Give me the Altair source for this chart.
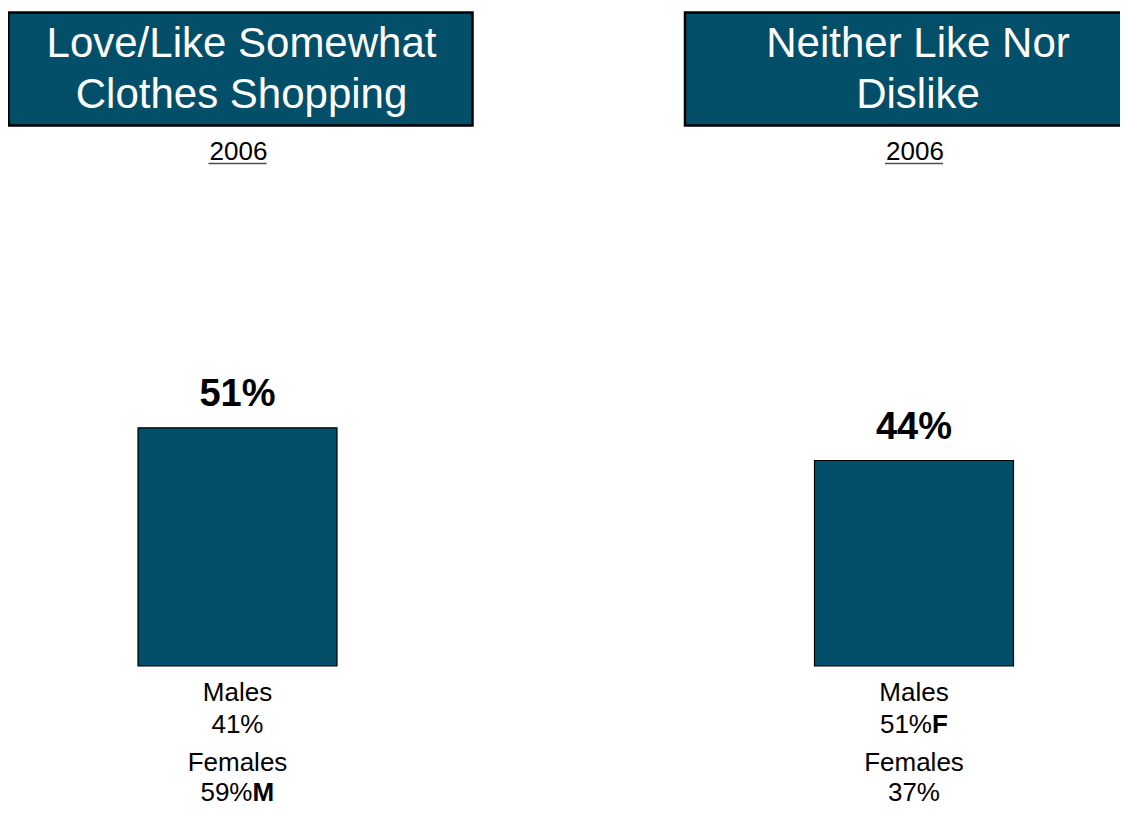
import altair as alt
import pandas as pd

# ---- data ----
panel_titles = ["Love/Like Somewhat\nClothes Shopping", "Neither Like Nor\nDislike"]
year_labels = ["2006", "2006"]
totals = [51, 44]
male_pct = [41, 51]
female_pct = [59, 37]
male_flag = ["", "F"]
female_flag = ["M", ""]

df = pd.DataFrame({
    "pos": [0, 1],
    "title": panel_titles,
    "year": year_labels,
    "total": totals,
    "total_lbl": [f"{v}%" for v in totals],
    "male_lbl": [f"{v}%" for v in male_pct],
    "female_lbl": [f"{v}%" for v in female_pct],
    "male_flag": male_flag,
    "female_flag": female_flag,
})

TEAL = "#034F69"
FONT = "Liberation Sans"
PX = 676.5  # pixels per panel unit on the x scale

X = alt.Scale(domain=[0, 1], range=[229.5, 906])
Y = alt.Scale(domain=[0, 100], range=[658, 191])
xe = alt.X("pos:Q", scale=X, axis=None)

base = alt.Chart(df)

# title boxes
boxes = base.transform_calculate(
    bl=f"datum.pos + (3 - 232) / {PX}", br=f"datum.pos + (3 + 232) / {PX}"
).mark_rect(color=TEAL, stroke="black", strokeWidth=2.5).encode(
    x=alt.X("bl:Q", scale=X, axis=None),
    x2="br:Q",
    y=alt.value(4.5),
    y2=alt.value(117.5),
)

titles = base.mark_text(
    font=FONT, fontSize=42, color="white", lineBreak="\n", lineHeight=51,
    baseline="middle", align="center", dx=4,
).encode(x=xe, y=alt.value(36), text="title:N")

years = base.mark_text(
    font=FONT, fontSize=26, color="black", baseline="middle", align="center", dx=1,
).encode(x=xe, y=alt.value(144), text="year:N")

underline = base.mark_tick(
    orient="horizontal", size=58, thickness=1.5, color="black"
).encode(x=alt.X("pos:Q", scale=X, axis=None), y=alt.value(155.5))

bars = base.transform_calculate(
    l=f"datum.pos - 99.5 / {PX}", r=f"datum.pos + 99.5 / {PX}"
).mark_rect(color=TEAL, stroke="black", strokeWidth=1.2).encode(
    x=alt.X("l:Q", scale=X, axis=None),
    x2="r:Q",
    y=alt.Y("total:Q", scale=Y, axis=None),
    y2=alt.datum(0),
)

value_lbl = base.mark_text(
    font=FONT, fontSize=38, fontWeight="bold", color="black",
    baseline="alphabetic", align="center", dy=-22,
).encode(x=xe, y=alt.Y("total:Q", scale=Y, axis=None), text="total_lbl:N")

txt = dict(font=FONT, fontSize=26, color="black", baseline="middle")

Y_MH, Y_MP, Y_FH, Y_FP = 685, 717, 755, 785

males_hdr = base.mark_text(align="center", **txt).encode(
    x=xe, y=alt.value(Y_MH), text=alt.value("Males"))
females_hdr = base.mark_text(align="center", **txt).encode(
    x=xe, y=alt.value(Y_FH), text=alt.value("Females"))

# percentage + bold significance flag, centered as a pair
def pair(num_field, flag_field, yv, off_flag):
    calc = base.transform_calculate(
        xp=f"datum.pos + (datum.{flag_field} == '' ? 26 : {off_flag}) / {PX}"
    )
    xx = alt.X("xp:Q", scale=X, axis=None)
    num = calc.mark_text(align="right", **txt).encode(
        x=xx, y=alt.value(yv), text=f"{num_field}:N")
    flg = calc.mark_text(align="left", fontWeight="bold", **txt).encode(
        x=xx, y=alt.value(yv), text=f"{flag_field}:N")
    return num, flg

male_num, male_fl = pair("male_lbl", "male_flag", Y_MP, 18)
female_num, female_fl = pair("female_lbl", "female_flag", Y_FP, 15)

chart = alt.layer(
    boxes, titles, years, underline, bars, value_lbl,
    males_hdr, females_hdr, male_num, male_fl, female_num, female_fl,
).properties(
    width=1112, height=800, padding=0, autosize=alt.AutoSizeParams(type="none")
).configure_view(stroke=None)

chart.save("out.html", embed_options={"renderer": "svg", "actions": False})
